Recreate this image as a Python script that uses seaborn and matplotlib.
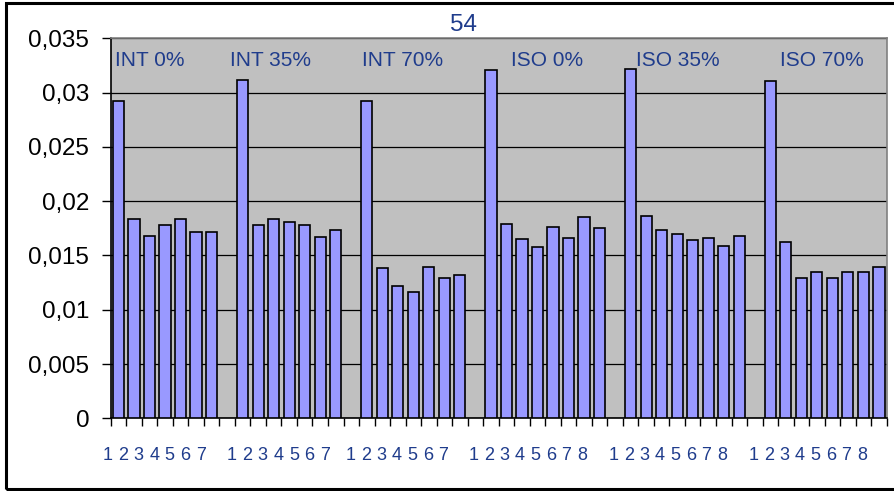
import matplotlib
matplotlib.use("Agg")
import matplotlib.pyplot as plt
import matplotlib.patches as mpatches
from matplotlib.ticker import FuncFormatter, MultipleLocator, FixedLocator
import seaborn as sns
import pandas as pd
import numpy as np

# ---------------- data ----------------
title = "54"
groups = ["INT 0%", "INT 35%", "INT 70%", "ISO 0%", "ISO 35%", "ISO 70%"]
int0 = [0.0292, 0.0184, 0.0168, 0.0178, 0.0184, 0.0172, 0.0172]
int35 = [0.0312, 0.0178, 0.0184, 0.0181, 0.0178, 0.0167, 0.0173]
int70 = [0.0292, 0.0138, 0.0122, 0.0116, 0.0139, 0.0129, 0.0132]
iso0 = [0.0321, 0.0179, 0.0165, 0.0158, 0.0176, 0.0166, 0.0185, 0.0175]
iso35 = [0.0322, 0.0186, 0.0173, 0.0170, 0.0164, 0.0166, 0.0159, 0.0168]
iso70 = [0.0311, 0.0162, 0.0129, 0.0135, 0.0129, 0.0135, 0.0135, 0.0139]
values = [int0, int35, int70, iso0, iso35, iso70]

# ---------------- layout (style only) ----------------
label_shift = [-0.70, -0.70, -1.06, -1.13, -1.11, -1.10]
title_shift = [-0.22, -0.81, -0.31, 1.27, 0.35, 0.63]
BLUE = "#1F3C8C"
W, H = 895, 491

sns.set_theme(style="white")
plt.rcParams["font.family"] = ["Liberation Sans", "DejaVu Sans"]

rows, order, starts = [], [], []
pos = 0
for gi, (g, vals) in enumerate(zip(groups, values)):
    if gi > 0:
        order.append(f"gap{gi}")
        pos += 1
    starts.append(pos)
    for j, v in enumerate(vals):
        name = f"{g}|{j + 1}"
        order.append(name)
        rows.append({"cat": name, "val": v, "group": g, "num": str(j + 1)})
        pos += 1
df = pd.DataFrame(rows)

fig = plt.figure(figsize=(W / 100, H / 100), dpi=100)
fig.patch.set_facecolor("white")
ax = fig.add_axes([110.7 / W, 1 - 418.3 / H, (886.7 - 110.7) / W, 380 / H])
ax.set_facecolor("#C0C0C0")

sns.barplot(data=df, x="cat", y="val", order=order, color="#9999FF",
            saturation=1, edgecolor="black", linewidth=1.2, width=0.72,
            errorbar=None, ax=ax, zorder=3)

ax.set_xlim(-0.5, len(order) - 0.5)
ax.set_ylim(0, 0.035)
ax.set_xlabel("")
ax.set_ylabel("")

# y axis
ax.yaxis.set_major_locator(MultipleLocator(0.005))
ax.yaxis.set_major_formatter(FuncFormatter(lambda v, p: ("%g" % round(v, 4)).replace(".", ",")))
ax.tick_params(axis="y", which="major", direction="out", length=6.5, width=1,
               color="black", labelsize=17.5, pad=9, labelcolor="black", left=True)
ax.yaxis.grid(True, color="black", linewidth=0.9, zorder=1)
ax.xaxis.grid(False)
ax.set_axisbelow(True)

# x axis: ticks at category boundaries, labels as text
ax.set_xticks([])
ax.xaxis.set_minor_locator(FixedLocator(np.arange(-0.5, len(order), 1.0)))
ax.tick_params(axis="x", which="minor", direction="out", length=6, width=1,
               color="black", bottom=True)
ax.tick_params(axis="x", which="major", bottom=False, labelbottom=False)

trans = ax.get_xaxis_transform()
for gi, vals in enumerate(values):
    for j in range(len(vals)):
        ax.text(starts[gi] + j + label_shift[gi], (418.3 - 455) / 380, str(j + 1),
                transform=trans, ha="center", va="center", fontsize=13,
                color=BLUE, clip_on=False)
    ax.text(starts[gi] + title_shift[gi], (418.3 - 60) / 380, groups[gi],
            transform=trans, ha="left", va="center", fontsize=15, color=BLUE)

for s in ["left", "bottom"]:
    ax.spines[s].set_color("black")
    ax.spines[s].set_linewidth(1.2)
for s in ["top", "right"]:
    ax.spines[s].set_color("#808080")
    ax.spines[s].set_linewidth(1.2)

fig.text(463.7 / W, 1 - 25.3 / H, title, ha="center", va="center",
         fontsize=17.5, color=BLUE)

# outer chart border (right side falls outside the picture)
fig.patches.append(mpatches.Rectangle((6 / W, 2 / H), 1.2, (489 - 3) / H,
                                      transform=fig.transFigure, fill=False,
                                      edgecolor="black", linewidth=2.2,
                                      clip_on=False))

fig.savefig("out.png", dpi=100)
